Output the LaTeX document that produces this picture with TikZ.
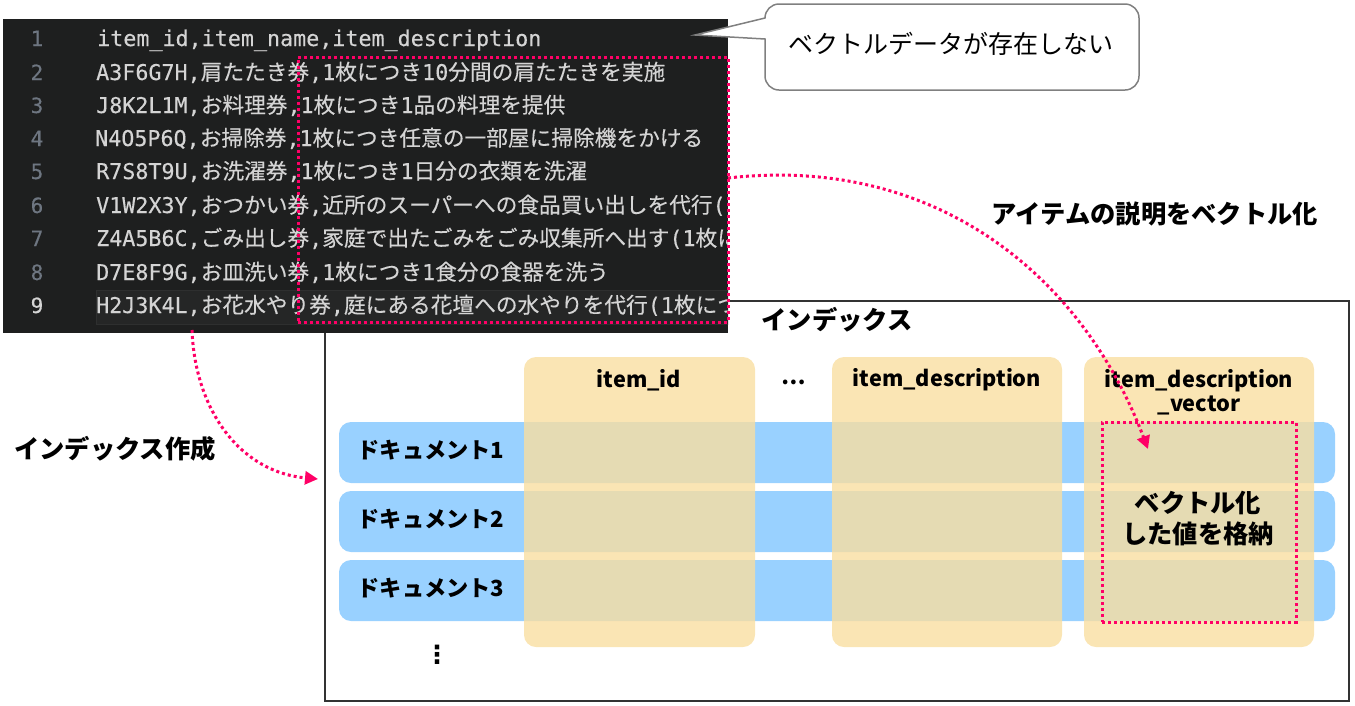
\documentclass[tikz,border=0pt]{standalone}
\usepackage{fontspec}
\setmainfont{Noto Sans CJK JP}
\setmonofont[FakeBold=0.25]{DejaVu Sans Mono}
\newfontfamily\dejavu{DejaVu Sans}
\newfontfamily\jpcode[FakeBold=0.25]{Noto Sans CJK JP}
\usetikzlibrary{arrows.meta}
\definecolor{pinkc}{HTML}{FF0066}
\definecolor{dark}{HTML}{1E1F1F}
\definecolor{codec}{HTML}{D4D4D4}
\definecolor{numc}{HTML}{6E7681}
\definecolor{bluec}{HTML}{99D1FF}
\definecolor{tanc}{HTML}{F9DEA1}
\newcommand{\J}[1]{{\jpcode #1}}
\newcommand{\fs}[1]{\fontsize{#1}{#1}\selectfont}
\tikzset{
  box/.style={anchor=north west,inner sep=0pt,outer sep=0pt},
  rowbox/.style={box,fill=bluec,rounded corners=12pt,minimum width=996pt,minimum height=61pt},
  colbox/.style={box,fill=tanc,fill opacity=.8,rounded corners=12pt,minimum height=290pt},
  pinkdot/.style={draw=pinkc,line width=3pt,dash pattern=on 3pt off 3pt},
  pinkarrow/.style={pinkdot,-{Triangle[length=13pt,width=13pt,fill=pinkc]}},
  head/.style={inner sep=0pt,font=\fs{21.7}\bfseries,text=black,align=center},
  bigb/.style={inner sep=0pt,font=\fs{25.3}\bfseries,text=black,align=center},
  rowlab/.style={inner sep=0pt,font=\fs{22.2}\bfseries,text=black},
  code/.style={anchor=base west,inner sep=0pt,text=codec,font=\fs{21.7}\ttfamily},
  num/.style={anchor=base,inner sep=0pt,text=numc,font=\fs{21}\ttfamily},
}
\begin{document}
\begin{tikzpicture}[x=1pt,y=-1pt]
\useasboundingbox (0,0) rectangle (1355,705);
% index frame
\node[box,draw=black!80,line width=1.5pt,minimum width=1024pt,minimum height=400pt] (frame) at (325,301) {};
\node[bigb] (ftitle) at (837,320) {インデックス};
% rows
\node[rowbox] (r1) at (339,422) {};
\node[rowbox] (r2) at (339,491) {};
\node[rowbox] (r3) at (339,560) {};
\node[rowlab] (l1) at (431,450) {ドキュメント1};
\node[rowlab] (l2) at (431,519) {ドキュメント2};
\node[rowlab] (l3) at (431,588) {ドキュメント3};
\node[inner sep=0pt,font=\fs{25}\dejavu\bfseries] (vd) at (437,655) {⋮};
% columns
\node[colbox,minimum width=231pt] (c1) at (524,357) {};
\node[colbox,minimum width=230pt] (c2) at (832,357) {};
\node[colbox,minimum width=230pt] (c3) at (1084,357) {};
\node[head] (h1) at (639,380) {item\_id};
\node[head] (hd) at (794,382) {…};
\node[head] (h2) at (947,380) {item\_description};
\node[head,align=center] (h3) at (1199,392) {item\_description\\[2.5pt]\_vector};
\node[bigb] (v1) at (1198,503) {ベクトル化};
\node[bigb] (v2) at (1198,534) {した値を格納};
% outer labels
\node[bigb] (t1) at (1155,214) {アイテムの説明をベクトル化};
\node[bigb] (t2) at (115,449) {インデックス作成};
% editor
\node[box,fill=dark,minimum width=725pt,minimum height=314pt] (ed) at (3,19) {};
\begin{scope}
\clip (3,19) rectangle (728,333);
\node[box,fill=white!3!dark,draw=white!7!dark,minimum width=640pt,minimum height=34pt] (hl) at (96,290) {};
\node[num] (n1) at (37,46) {1};
\node[num] (n2) at (37,80) {2};
\node[num] (n3) at (37,113) {3};
\node[num] (n4) at (37,146) {4};
\node[num] (n5) at (37,179) {5};
\node[num] (n6) at (37,213) {6};
\node[num] (n7) at (37,246) {7};
\node[num] (n8) at (37,280) {8};
\node[num,text=codec] (n9) at (37,313) {9};
\node[code] (s1) at (97,46) {item\_id,item\_name,item\_description};
\node[code] (s2) at (96,80) {A3F6G7H,\J{肩たたき券},1\J{枚につき}10\J{分間の肩たたきを実施}};
\node[code] (s3) at (96,113) {J8K2L1M,\J{お料理券},1\J{枚につき}1\J{品の料理を提供}};
\node[code] (s4) at (95,146) {N4O5P6Q,\J{お掃除券},1\J{枚につき任意の一部屋に掃除機をかける}};
\node[code] (s5) at (96,179) {R7S8T9U,\J{お洗濯券},1\J{枚につき}1\J{日分の衣類を洗濯}};
\node[code] (s6) at (96,213) {V1W2X3Y,\J{おつかい券},\J{近所のスーパーへの食品買い出しを代行}(};
\node[code] (s7) at (96,246) {Z4A5B6C,\J{ごみ出し券},\J{家庭で出たごみをごみ収集所へ出す}(1\J{枚に}};
\node[code] (s8) at (96,280) {D7E8F9G,\J{お皿洗い券},1\J{枚につき}1\J{食分の食器を洗う}};
\node[code] (s9) at (96,313) {H2J3K4L,\J{お花水やり券},\J{庭にある花壇への水やりを代行}(1\J{枚につ}};
\end{scope}
% dotted selections
\node[box,pinkdot,minimum width=430pt,minimum height=265pt] (sel) at (298,57) {};
\node[box,pinkdot,minimum width=194pt,minimum height=200pt] (vec) at (1102,422) {};
% connectors
\coordinate (a1) at (728,178);
\coordinate (a2) at (1148,449);
\coordinate (b1) at (192,330);
\coordinate (b2) at (318,479);
\draw[pinkarrow] (a1) .. controls (930,155) and (1080,270) .. (a2);
\draw[pinkarrow] (b1) .. controls (195,410) and (240,472) .. (b2);
% callout
\draw[draw=black!50,line width=1.5pt,fill=white]
  (695,35) -- (765,18) arc[start angle=180,end angle=270,radius=14] -- (1125,4)
  arc[start angle=270,end angle=360,radius=14] -- (1139,76)
  arc[start angle=0,end angle=90,radius=14] -- (779,90)
  arc[start angle=90,end angle=180,radius=14] -- (765,39) -- cycle;
\node[inner sep=0pt,font=\fs{25},text=black] (ct) at (951,44) {ベクトルデータが存在しない};
\end{tikzpicture}
\end{document}
